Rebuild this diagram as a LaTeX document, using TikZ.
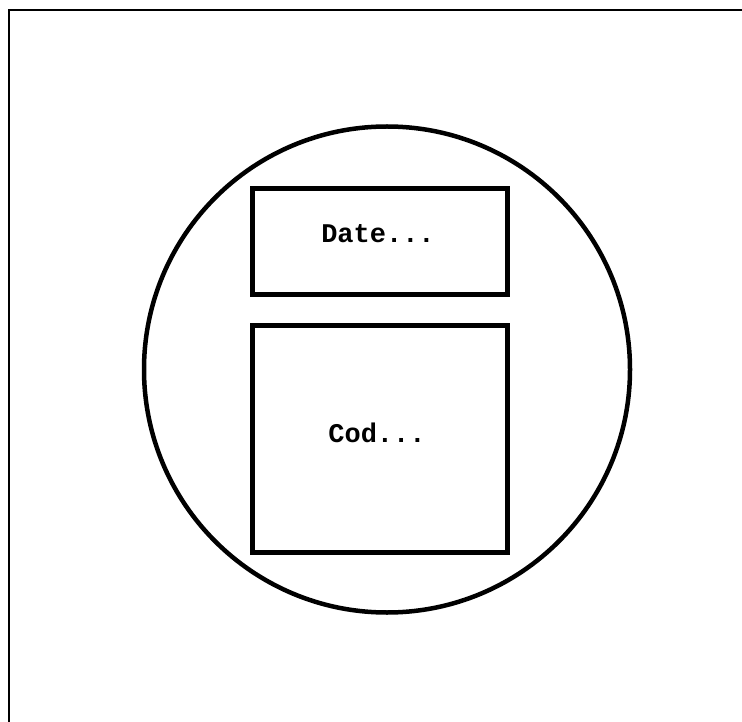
\documentclass[tikz,border=0pt]{standalone}
\usepackage{fontspec}
\setmonofont{Liberation Mono}
\tikzset{
  frameline/.style={line width=2.5pt, line cap=rect},
  ring/.style={circle, draw, line width=4.5pt, minimum size=486pt, inner sep=0pt},
  box/.style={draw, line width=5pt, inner sep=0pt},
  lbl/.style={font=\fontsize{27}{32}\selectfont\ttfamily\bfseries, inner sep=0pt}
}
\begin{document}
\begin{tikzpicture}[x=1pt, y=-1pt]
\useasboundingbox (0,0) rectangle (742,722);
\fill[white] (0,0) rectangle (742,722);
\coordinate (fbl) at (9,722);
\coordinate (ftl) at (9,10);
\coordinate (ftr) at (742,10);
\draw[frameline] (fbl) -- (ftl) -- (ftr);
\node[ring] (c) at (387,369.5) {};
\node[box, minimum width=255pt, minimum height=106pt] (date) at (379.5,242) {};
\node[box, minimum width=255pt, minimum height=227pt] (cod) at (379.5,438.5) {};
\node[lbl] (datet) at (378,234) {Date...};
\node[lbl] (codt) at (377,433) {Cod...};
\end{tikzpicture}
\end{document}
